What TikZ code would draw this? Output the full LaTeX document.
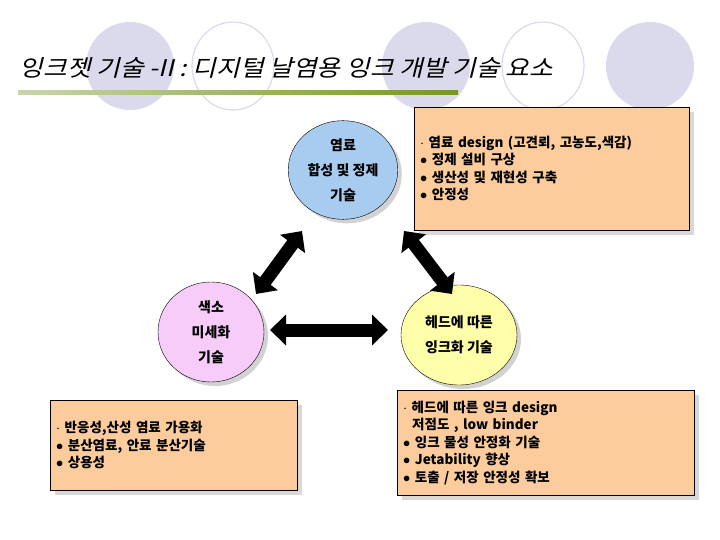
\documentclass[tikz,border=0pt]{standalone}
\usepackage{fontspec}
\setmainfont{Noto Sans CJK KR}
\newfontfamily\titlefont{Noto Sans CJK KR}[FakeSlant=0.22]
\usepackage{tikz}
\usetikzlibrary{positioning,arrows.meta,shadows,shapes.geometric}
\definecolor{lavender}{RGB}{218,218,236}
\definecolor{bluefill}{RGB}{168,204,240}
\definecolor{pinkfill}{RGB}{248,204,248}
\definecolor{yellowfill}{RGB}{255,255,170}
\definecolor{peach}{RGB}{252,204,156}
\definecolor{olive}{RGB}{120,150,40}
\tikzset{
  topic/.style={ellipse, draw, thin, align=center, font=\bfseries\fontsize{14}{25}\selectfont,
    drop shadow={shadow xshift=4pt, shadow yshift=-4pt, fill=gray!70}},
  notes/.style={draw, thin, fill=peach, align=left, inner sep=6pt,
    font=\bfseries\fontsize{13.5}{17.5}\selectfont,
    drop shadow={shadow xshift=5pt, shadow yshift=-5pt, fill=gray!60}},
  fat/.style={line width=13pt, {Triangle[width=30pt,length=16pt]}-{Triangle[width=30pt,length=16pt]}},
}
\begin{document}
\begin{tikzpicture}[x=1pt, y=-1pt]
    \useasboundingbox (0,0) rectangle (720,540);

    % decoration behind the title
    \foreach \cx in {130,426,650}
        \fill[lavender] (\cx,66) ellipse (44 and 44);
    \foreach \cx in {233,543}
        \draw[lavender, line width=1.2pt] (\cx,66) ellipse (41 and 44);
    \node[anchor=west, font=\titlefont\fontsize{23}{26}\selectfont, xscale=1.12] (title) at (16,68)
        {잉크젯 기술 -II : 디지털 날염용 잉크 개발 기술 요소};
    \shade[left color=olive!40, right color=olive] (18,91) rectangle (458,95);

    % three topics
    \node[topic, fill=bluefill, minimum width=86pt, minimum height=96pt] (dye) at (343,170)
        {염료\\합성 및 정제\\기술};
    \node[topic, fill=pinkfill, minimum width=106pt, minimum height=100pt] (pig) at (211,332)
        {색소\\미세화\\기술};
    \node[topic, fill=yellowfill, minimum width=116pt, minimum height=100pt] (head) at (459,335)
        {헤드에 따른\\잉크화 기술};

    % notes
    \node[notes, anchor=north west, text width=263pt, minimum height=123pt] (dyenote) at (414,107)
        {$\cdot$ 염료 design (고견뢰, 고농도,색감)\\ $\bullet$ 정제 설비 구상\\ $\bullet$ 생산성 및 재현성 구축\\ $\bullet$ 안정성\\[36pt]};
    \node[notes, anchor=north west, text width=235pt, minimum height=90pt] (pignote) at (50,400)
        {$\cdot$ 반응성,산성 염료 가용화\\ $\bullet$ 분산염료, 안료 분산기술\\ $\bullet$ 상용성};
    \node[notes, anchor=north west, text width=285pt, minimum height=105pt] (headnote) at (397,390)
        {$\cdot$ 헤드에 따른 잉크 design\\ \ \ 저점도 , low binder\\ $\bullet$ 잉크 물성 안정화 기술\\ $\bullet$ Jetability 향상\\ $\bullet$ 토출 / 저장 안정성 확보};

    % links
    \coordinate (a1) at (256,294);
    \coordinate (a2) at (302,231);
    \draw[fat] (a1) -- (a2);
    \coordinate (b1) at (270,330);
    \coordinate (b2) at (388,330);
    \draw[fat] (b1) -- (b2);
    \coordinate (c1) at (404,231);
    \coordinate (c2) at (452,294);
    \draw[fat] (c1) -- (c2);
\end{tikzpicture}
\end{document}
